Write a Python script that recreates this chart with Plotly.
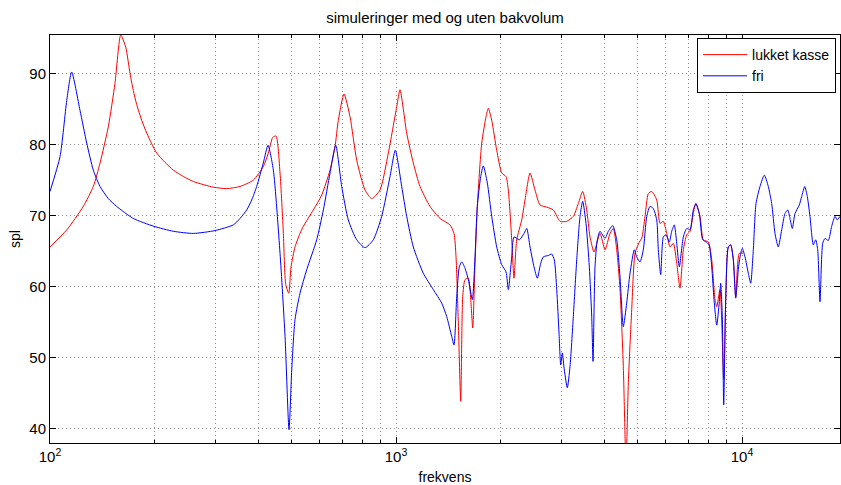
import plotly.graph_objects as go

# Simulated SPL, closed box ("lukket kasse")
freq_lukket = [
    100, 111.8, 124.8, 133.4, 139.5, 147.4, 154.1, 160.1, 165.5, 170.3,
    174.1, 178.1, 184.1, 190.4, 196.8, 203.4, 214.9, 227.2, 243.0, 259.6,
    296.5, 324.1, 354.1, 386.9, 413.5,
    427.5, 440.3, 450.1, 462.2, 472.5, 480.1, 489.8, 497.3, 510.7, 527.9,
    539.7, 576.8, 610.0, 644.6, 666.4, 681.2, 707.5, 736.4, 769.9, 813.6,
    850.7, 898.9, 950.1, 1004.6, 1027, 1073.7, 1122, 1173.2, 1254, 1340.5,
    1432.7, 1471.2, 1491, 1514.1, 1538.3, 1559, 1582.9, 1618.3, 1644.2, 1666.3,
    1691.8, 1718, 1769, 1820.3, 1848.6, 1890.8, 1954.5, 2020.9, 2079.4, 2111.7,
    2159.9, 2193, 2232.7, 2308.5, 2359.6, 2439.6, 2522, 2607.4, 2726, 2848.7,
    2978.7, 3114.1, 3254.1, 3364.6, 3464.4, 3558.2, 3637, 3735.4, 3887.2, 4018.3,
    4154.7, 4246.6, 4344.5, 4440.6, 4538.8, 4621.1, 4692.9, 4800, 4907.3, 5049.4,
    5130.4, 5245.1, 5361.1, 5483.4, 5669.3, 5794.7, 5923, 6059.5, 6193.5, 6330.5,
    6476.4, 6619.6, 6766, 6921.9, 7075, 7231.5, 7348.9, 7561.8, 7730.8, 7991.5,
    8173.9, 8356.6, 8451.4, 8638.3, 8853.8, 8972.8, 9129.1, 9275.3, 9438.6, 9589.8,
    9821.9, 10087,
]
spl_lukket = [
    65.6, 68.0, 71.3, 74.1, 77.4, 82.5, 88.6, 95.4, 93.7, 90.0,
    87.6, 85.6, 83.4, 81.6, 80.1, 78.8, 77.5, 76.4, 75.5, 74.8,
    74.0, 73.8, 74.1, 75.0, 76.9,
    78.8, 81.0, 81.2, 76.0, 67.5, 60.3, 59.1, 62.8, 65.6, 67.5,
    68.5, 70.8, 72.9, 76.4, 79.7, 83.4, 87.1, 83.9, 77.8, 73.6,
    72.4, 73.6, 78.8, 85.3, 87.7, 81.6, 77.4, 74.1, 71.3, 69.6,
    68.7, 67.5, 64.2, 54.9, 43.9, 58.6, 61.0, 61.2, 58.2, 54.2,
    63.3, 71.3, 80.2, 83.9, 85.1, 83.4, 79.2, 76.0, 75.5, 73.6,
    66.6, 61.2, 66.6, 69.4, 72.2, 76.0, 73.6, 71.5, 71.2, 70.8,
    69.2, 69.2, 69.9, 71.7, 73.4, 70.8, 67.0, 64.9, 67.5, 65.2,
    67.5, 68.2, 65.2, 59.6, 48.8, 35.0, 46.5, 56.8, 64.7, 66.3,
    66.8, 69.9, 73.1, 73.4, 72.2, 68.9, 69.2, 67.5, 65.6, 66.1,
    63.3, 59.8, 65.2, 67.3, 67.8, 70.3, 71.7, 69.9, 66.6, 66.3,
    63.8, 58.2, 57.2, 59.6, 47.0, 58.2, 65.6, 65.9, 63.8, 58.6,
    64.7, 64.7,
]

# Simulated SPL, free driver without back volume ("fri")
freq_fri = [
    100, 106.9, 111.8, 115.5, 122.1, 127.7, 133.4, 139.5, 147.4, 155.8,
    174.1, 199.7, 227.2, 259.6, 299.8, 338.8, 354.1, 370.3, 382.8, 395.7,
    413.5, 426.7, 442.1,
    462.2, 477.9, 490.7, 499.6, 510.7, 527.9, 552.1, 589.9, 616.6, 644.6,
    669.5, 696.8, 728.0, 769.9, 813.6, 859.8, 909.1, 961.0, 995.4, 1038.7,
    1073.7, 1122, 1199.1, 1281.8, 1355.5, 1401.4, 1448.8, 1471.2, 1497.9, 1523.9,
    1548.7, 1582.9, 1618.3, 1661.8, 1691.8, 1718, 1757.3, 1787.9, 1836.2, 1890.8,
    1954.5, 2020.9, 2079.4, 2111.7, 2159.9, 2193, 2271.8, 2344.2, 2386.7, 2439.6,
    2505.3, 2561.3, 2619.4, 2665, 2755.3, 2818.4, 2867.5, 2914.3, 2958.9, 2992.5,
    3024.3, 3065, 3127, 3183.7, 3254.1, 3329, 3402.6, 3464.4, 3541.1, 3620.3,
    3678.3, 3710.6, 3759.6, 3818, 3887.2, 4018.3, 4108.1, 4230, 4344.5, 4440.6,
    4538.8, 4642, 4745.8, 4883.5, 4962.1, 5072.8, 5185.1, 5304.6, 5421.9, 5541.9,
    5669.3, 5729.7, 5821.5, 5923, 6030.3, 6164.9, 6263.6, 6373, 6476.4, 6589.2,
    6766, 6921.9, 7075, 7231.5, 7363.5, 7526.5, 7698.8, 7870.5, 8028.9, 8173.9,
    8300.4, 8451.4, 8598.7, 8677.8, 8771, 8853.8, 8972.8, 9129.1, 9275.3, 9438.6,
    9589.8, 9756.5, 9867.6, 10020, 10202, 10428, 10596, 10781, 10977, 11272,
    11600, 11912, 12184, 12455, 12731, 13022, 13313, 13554, 13762, 13976,
    14229, 14641, 14876, 15176, 15441, 15720, 16071, 16329, 16548, 16803,
    17108, 17374, 17757, 18163, 18568, 18854, 19196,
]
spl_fri = [
    73.4, 78.3, 86.2, 90.2, 84.8, 80.2, 76.4, 74.1, 72.4, 71.3,
    69.6, 68.5, 67.8, 67.5, 67.9, 68.7, 69.6, 70.8, 72.2, 74.1,
    77.4, 79.9, 76.4,
    64.7, 53.0, 39.9, 48.3, 55.4, 59.1, 62.4, 66.6, 70.8, 76.0,
    79.9, 74.1, 69.4, 66.6, 65.5, 66.6, 69.9, 75.5, 79.2, 74.1,
    69.9, 65.6, 61.9, 59.6, 57.7, 55.8, 53.0, 51.8, 58.6, 62.8,
    63.5, 62.6, 61.0, 58.2, 64.2, 71.3, 75.5, 77.0, 74.6, 69.9,
    65.6, 63.1, 62.1, 59.6, 64.2, 67.0, 66.6, 67.5, 68.2, 65.6,
    62.8, 61.2, 63.3, 64.2, 64.4, 64.6, 63.8, 59.6, 53.5, 49.0,
    50.7, 48.3, 45.8, 48.8, 55.8, 63.8, 69.9, 72.0, 68.9, 62.8,
    55.8, 49.5, 62.8, 66.6, 67.8, 66.8, 67.8, 68.6, 66.6, 61.4,
    54.4, 57.7, 61.9, 65.2, 64.2, 63.5, 65.2, 69.9, 71.3, 71.0,
    69.4, 65.2, 61.7, 67.0, 67.3, 66.3, 67.8, 68.7, 66.1, 62.8,
    67.0, 68.2, 68.0, 70.8, 71.7, 70.3, 66.6, 66.3, 65.9, 62.8,
    58.2, 54.6, 57.9, 60.5, 55.8, 43.4, 58.2, 65.6, 65.9, 63.8,
    58.4, 62.4, 64.2, 65.4, 64.2, 61.9, 60.5, 65.2, 71.7, 74.1,
    75.7, 74.1, 71.7, 67.5, 65.6, 68.0, 70.3, 70.8, 69.6, 68.2,
    70.3, 71.5, 72.7, 74.1, 72.7, 69.9, 65.9, 66.6, 65.2, 57.9,
    66.1, 66.8, 66.5, 68.5, 69.9, 69.4, 69.9,
]

x_major = [100, 1000, 10000]
x_major_text = ["10<sup>2</sup>", "10<sup>3</sup>", "10<sup>4</sup>"]
x_minor = [m * d for d in (100, 1000, 10000) for m in range(2, 10)]
y_ticks = [40, 50, 60, 70, 80, 90]

FONT = "Liberation Sans, Arial, Helvetica, sans-serif"
GRID = "#8a8a8a"
DOTS = "1px,3px"

fig = go.Figure()
fig.add_trace(go.Scatter(x=freq_lukket, y=spl_lukket, mode="lines",
                         name="lukket kasse",
                         line=dict(color="#ff0000", width=1, shape="spline", smoothing=0.6)))
fig.add_trace(go.Scatter(x=freq_fri, y=spl_fri, mode="lines",
                         name="fri",
                         line=dict(color="#0000ff", width=1, shape="spline", smoothing=0.6)))

fig.update_layout(
    width=841, height=485,
    margin=dict(l=50, r=1, t=35, b=42),
    paper_bgcolor="white", plot_bgcolor="white",
    font=dict(family=FONT, size=15, color="black"),
    title=dict(text="simuleringer med og uten bakvolum", x=0.5, xref="paper",
               y=1 - 18 / 485, yanchor="middle", font=dict(size=15)),
    showlegend=True,
    legend=dict(x=0.995, y=0.9926, xanchor="right", yanchor="top",
                bgcolor="white", bordercolor="black", borderwidth=1,
                font=dict(size=14), itemwidth=44, tracegroupgap=0),
)

fig.update_xaxes(
    type="log", range=[2, 4.2832],
    tickvals=x_major, ticktext=x_major_text,
    ticks="inside", ticklen=6, tickcolor="black",
    showline=True, linecolor="black", linewidth=1, mirror="ticks",
    showgrid=True, gridcolor=GRID, griddash=DOTS, gridwidth=1,
    minor=dict(tickvals=x_minor, ticks="inside", ticklen=3, tickcolor="black",
               showgrid=True, gridcolor=GRID, griddash=DOTS, gridwidth=1),
    zeroline=False,
    title=dict(text="frekvens", standoff=9, font=dict(size=14)),
)
fig.update_yaxes(
    range=[38.03, 95.4],
    tickvals=y_ticks,
    ticks="inside", ticklen=6, tickcolor="black",
    showline=True, linecolor="black", linewidth=1, mirror="ticks",
    showgrid=True, gridcolor=GRID, griddash=DOTS, gridwidth=1,
    zeroline=False,
    title=dict(text="spl", standoff=5, font=dict(size=14)),
)

fig.write_html("out.html")
